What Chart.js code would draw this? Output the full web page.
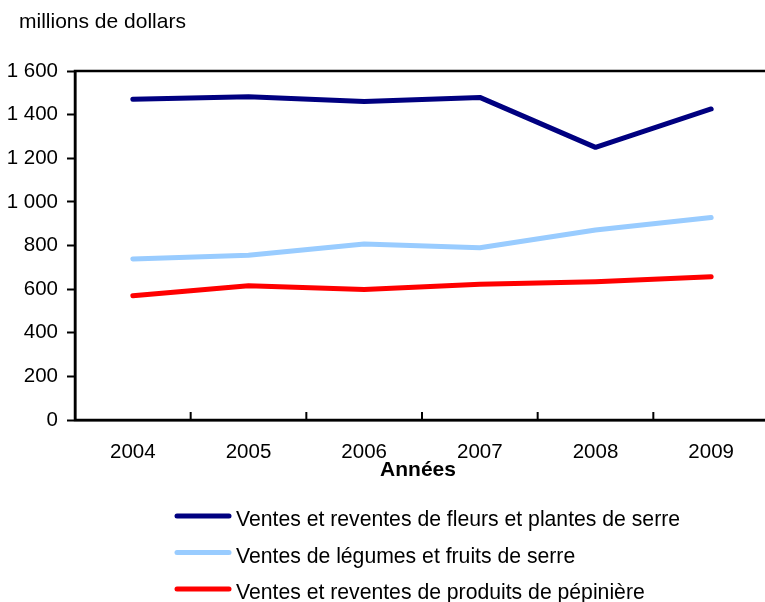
<!DOCTYPE html>
<html>
<head>
<meta charset="utf-8">
<script src="https://cdn.jsdelivr.net/npm/chart.js@4/dist/chart.umd.min.js"></script>
<style>
html,body{margin:0;padding:0;background:#fff;overflow:hidden;}
#wrap{width:770px;height:602px;position:relative;}
</style>
</head>
<body>
<div id="wrap"><canvas id="c" width="770" height="602"></canvas></div>
<script>
const years = ['2004','2005','2006','2007','2008','2009'];
const fleurs = [1470, 1482, 1460, 1479, 1250, 1426];
const legumes = [738, 755, 807, 790, 871, 928];
const pepiniere = [570, 616, 598, 622, 634, 657];
const seriesLabels = [
  'Ventes et reventes de fleurs et plantes de serre',
  'Ventes de légumes et fruits de serre',
  'Ventes et reventes de produits de pépinière'
];
const seriesColors = ['#000080', '#99CCFF', '#FF0000'];
const yTitle = 'millions de dollars';
const xTitle = 'Années';

const FONT = '"Liberation Sans", Arial, Helvetica, sans-serif';

const decor = {
  id: 'decor',
  afterDraw(chart) {
    const ctx = chart.ctx;
    const a = chart.chartArea;
    const xs = chart.scales.x;
    ctx.save();
    ctx.strokeStyle = '#000';
    ctx.lineWidth = 2.5;
    ctx.strokeRect(a.left, a.top, a.right - a.left, a.bottom - a.top);
    ctx.lineWidth = 2;
    for (let i = 1; i < years.length; i++) {
      const x = (xs.getPixelForValue(i - 1) + xs.getPixelForValue(i)) / 2;
      ctx.beginPath();
      ctx.moveTo(x, a.bottom);
      ctx.lineTo(x, a.bottom - 8);
      ctx.stroke();
    }
    ctx.fillStyle = '#000';
    ctx.font = '21px ' + FONT;
    ctx.textAlign = 'left';
    ctx.textBaseline = 'alphabetic';
    ctx.fillText(yTitle, 19, 28);
    ctx.font = 'bold 21px ' + FONT;
    ctx.textAlign = 'center';
    ctx.fillText(xTitle, 418, 476);
    const rows = [516, 552.5, 589];
    chart.data.datasets.forEach((ds, i) => {
      const y = rows[i];
      ctx.strokeStyle = ds.borderColor;
      ctx.lineWidth = 5;
      ctx.lineCap = 'round';
      ctx.beginPath();
      ctx.moveTo(177, y);
      ctx.lineTo(229, y);
      ctx.stroke();
      ctx.fillStyle = '#000';
      ctx.font = '21.2px ' + FONT;
      ctx.textAlign = 'left';
      ctx.textBaseline = 'alphabetic';
      ctx.fillText(ds.label, 236, y + 10);
    });
    ctx.restore();
  }
};

new Chart(document.getElementById('c'), {
  type: 'line',
  data: {
    labels: years,
    datasets: [fleurs, legumes, pepiniere].map((d, i) => ({
      label: seriesLabels[i],
      data: d,
      borderColor: seriesColors[i],
      backgroundColor: seriesColors[i],
      borderWidth: 5,
      pointRadius: 0,
      tension: 0,
      borderCapStyle: 'round',
      borderJoinStyle: 'round'
    }))
  },
  options: {
    responsive: false,
    animation: false,
    events: [],
    layout: { padding: { left: 0, right: 1, top: 71, bottom: 0 } },
    plugins: { legend: { display: false }, tooltip: { enabled: false } },
    scales: {
      x: {
        offset: true,
        grid: { display: false, drawTicks: false },
        border: { display: true, color: '#000', width: 2.5 },
        ticks: { color: '#000', font: { family: FONT, size: 20.5 }, padding: 20, maxRotation: 0 },
        afterFit(s) { s.height = 182; }
      },
      y: {
        min: 0, max: 1600,
        grid: { drawOnChartArea: false, drawTicks: true, tickLength: 8, tickColor: '#000', tickWidth: 2 },
        border: { display: true, color: '#000', width: 2.5 },
        ticks: {
          stepSize: 200, color: '#000', padding: 9,
          font: { family: FONT, size: 20.5 },
          callback: v => String(v).replace(/\B(?=(\d{3})+(?!\d))/g, ' ')
        },
        afterFit(s) { s.width = 75; }
      }
    }
  },
  plugins: [decor]
});
</script>
</body>
</html>
